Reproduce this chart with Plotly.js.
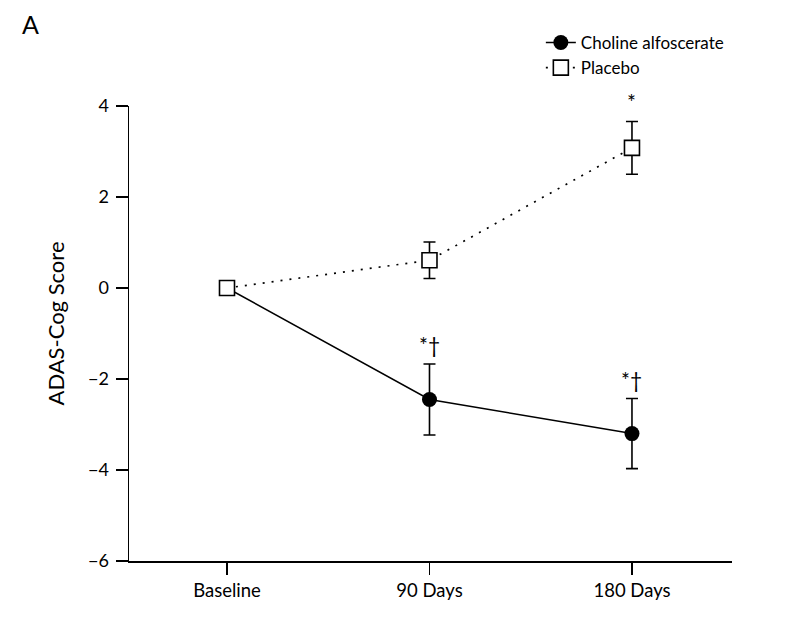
<!DOCTYPE html>
<html>
<head>
<meta charset="utf-8">
<script src="https://cdn.plot.ly/plotly-3.0.1.min.js"></script>
<style>
  html, body { margin: 0; padding: 0; background: #fff; }
  #chart { width: 791px; height: 621px; }
</style>
</head>
<body>
<div id="chart"></div>
<script>
// values
const timepoints = ['Baseline', '90 Days', '180 Days'];
const cholineMean = [0, -2.45, -3.20];
const cholineErr = [0, 0.78, 0.77];
const cholineMarks = ['', '*†', '*†'];
const placeboMean = [0, 0.61, 3.08];
const placeboErr = [0, 0.40, 0.58];
const placeboMarks = ['', '', '*'];
const yTicks = [-6, -4, -2, 0, 2, 4];

const FONT = 'Lato, "Open Sans", sans-serif';
const INK = '#000';

const traces = [
  {
    x: timepoints,
    y: cholineMean,
    name: 'Choline alfoscerate',
    type: 'scatter',
    mode: 'lines+markers',
    line: {color: INK, width: 1.5},
    marker: {symbol: 'circle', size: 15, color: INK},
    error_y: {type: 'data', array: cholineErr, visible: true, color: INK, thickness: 1.6, width: 6}
  },
  {
    x: timepoints,
    y: placeboMean,
    name: 'Placebo',
    type: 'scatter',
    mode: 'lines+markers',
    line: {color: INK, width: 1.7, dash: '2px,7px'},
    marker: {symbol: 'square', size: 15, color: '#fff', line: {color: INK, width: 1.6}},
    error_y: {type: 'data', array: placeboErr, visible: true, color: INK, thickness: 1.6, width: 6}
  }
];

// significance markers sit just above each upper error bar
const annotations = [];
[[cholineMean, cholineErr, cholineMarks], [placeboMean, placeboErr, placeboMarks]].forEach(([m, e, s]) => {
  s.forEach((txt, i) => {
    if (!txt) return;
    annotations.push({
      x: timepoints[i], y: m[i] + e[i], xref: 'x', yref: 'y',
      text: txt, showarrow: false, yanchor: 'bottom', yshift: 5,
      font: {family: FONT, size: 21, color: INK}
    });
  });
});

annotations.push({
  text: 'A', xref: 'paper', yref: 'paper', x: -0.164, y: 1.18,
  xanchor: 'center', yanchor: 'middle', showarrow: false,
  font: {family: FONT, size: 25, color: INK}
});

// y axis title, placed a little below the axis centre as in the figure
annotations.push({
  text: 'ADAS-Cog Score', xref: 'paper', yref: 'paper', x: -0.122, y: 0.523,
  xanchor: 'center', yanchor: 'middle', textangle: -90, showarrow: false,
  font: {family: FONT, size: 22, color: INK}
});

const layout = {
  width: 791,
  height: 621,
  margin: {l: 129, r: 59, t: 106, b: 60},
  paper_bgcolor: '#fff',
  plot_bgcolor: '#fff',
  font: {family: FONT, color: INK, size: 18},
  showlegend: true,
  legend: {
    x: 0.683, y: 1.178, xanchor: 'left', yanchor: 'top',
    font: {family: FONT, size: 17, color: INK},
    bgcolor: 'rgba(0,0,0,0)', itemwidth: 30, tracegroupgap: 0
  },
  xaxis: {
    type: 'category',
    range: [-0.484, 2.494],
    showline: true, linecolor: INK, linewidth: 1.5,
    ticks: 'outside', ticklen: 12, tickwidth: 1.5, tickcolor: INK,
    showgrid: false, zeroline: false,
    tickfont: {family: FONT, size: 18.5, color: INK},
    fixedrange: true
  },
  yaxis: {
    range: [-6, 4],
    tickvals: yTicks,
    showline: true, linecolor: INK, linewidth: 1.5,
    ticks: 'outside', ticklen: 12, tickwidth: 1.5, tickcolor: INK,
    ticklabelstandoff: 3,
    showgrid: false, zeroline: false,
    tickfont: {family: FONT, size: 18, color: INK},
    fixedrange: true
  },
  annotations: annotations
};

Plotly.newPlot('chart', traces, layout, {displayModeBar: false, staticPlot: true});
</script>
</body>
</html>
